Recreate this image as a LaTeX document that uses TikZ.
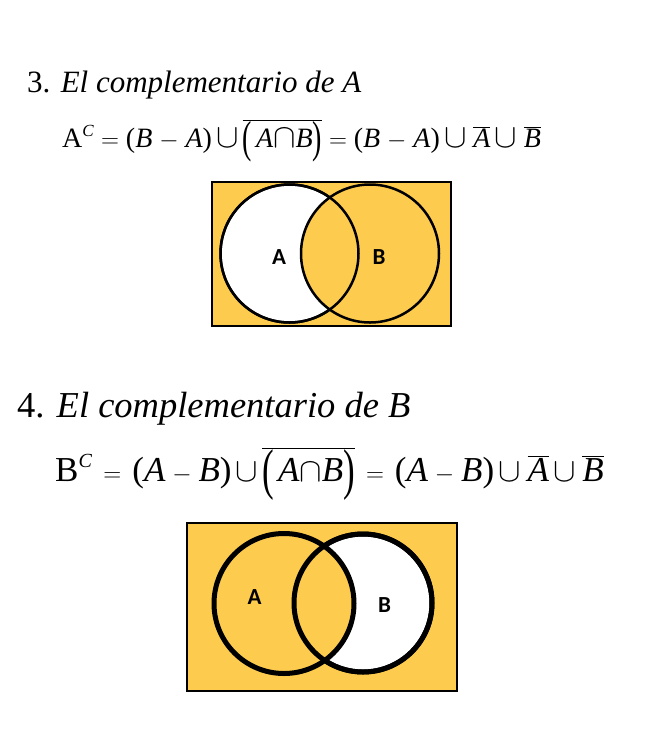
\documentclass[tikz,border=0pt]{standalone}
\usepackage{fontspec}
\setmainfont{Liberation Serif}
\newfontfamily\labelfont{Carlito}
\definecolor{venngold}{RGB}{253,203,77}
\newcommand{\mv}[1]{\mbox{\itshape #1}}
\newcommand{\sop}[1]{\mathord{\scalebox{1.35}{$#1$}}}
\newcommand{\pl}{\mbox{(}}
\newcommand{\pr}{\mbox{)}}
\newcommand{\bpl}{\mbox{\raisebox{-0.2em}{\scalebox{1}[1.6]{(}}}}
\newcommand{\bpr}{\mbox{\raisebox{-0.2em}{\scalebox{1}[1.6]{)}}}}
\newcommand{\minus}{\;{-}\;}
\newcommand{\eq}{\;{=}\;}

\begin{document}
\begin{tikzpicture}[
        x=1pt, y=-1pt,
        heading/.style={anchor=base west, inner sep=0pt},
        formula/.style={anchor=base west, inner sep=0pt},
        universe/.style={draw, fill=venngold, inner sep=0pt},
        set/.style={circle, draw, inner sep=0pt},
        setlabel/.style={font=\labelfont}
    ]
    \useasboundingbox (0,0) rectangle (656,748);

    % ---- 3. complementario de A
    \node[heading, font=\fontsize{31}{33}\selectfont] (h3) at (27,92) {3. \textit{El complementario de A}};
    \node[formula, font=\fontsize{28}{31}\selectfont] (f3) at (62,147)
        {$\mbox{A}^{\mbox{\fontsize{17}{17}\selectfont\itshape C}}\eq\pl\mv{B}\minus\mv{A}\pr\,\sop{\cup}\,\overline{\bpl\,\mv{A}\sop{\cap}\mv{B}\bpr}\eq\pl\mv{B}\minus\mv{A}\pr\,\sop{\cup}\;\overline{\mv{A}}\,\sop{\cup}\;\overline{\mv{B}}$};

    \node[universe, line width=1.2pt, minimum width=239pt, minimum height=144pt] (u3) at (331.5,254) {};
    \node[set, line width=2.5pt, fill=white, minimum size=138pt] (a3) at (289.5,253.5) {};
    \node[set, line width=2.5pt, fill=venngold, minimum size=138pt] (b3) at (370,253.5) {};
    \draw[line width=2.5pt] (a3.center) circle[radius=69pt];
    \node[setlabel, font=\labelfont\bfseries\fontsize{23}{23}\selectfont] (la3) at (279,257.5) {A};
    \node[setlabel, font=\labelfont\bfseries\fontsize{23}{23}\selectfont] (lb3) at (379,257.5) {B};

    % ---- 4. complementario de B
    \node[heading, font=\fontsize{36.5}{38}\selectfont] (h4) at (17,417) {4. \textit{El complementario de B}};
    \node[formula, font=\fontsize{35}{38}\selectfont] (f4) at (55,481)
        {$\mbox{B}^{\mbox{\fontsize{20}{20}\selectfont\itshape C}}\,\eq\,\pl\mv{A}\minus\mv{B}\pr\,\sop{\cup}\,\overline{\bpl\,\mv{A}\sop{\cap}\mv{B}\bpr}\,\eq\,\pl\mv{A}\minus\mv{B}\pr\,\sop{\cup}\;\overline{\mv{A}}\,\sop{\cup}\;\overline{\mv{B}}$};

    \node[universe, line width=2pt, minimum width=270pt, minimum height=168pt] (u4) at (322,607) {};
    \node[set, line width=5pt, fill=white, minimum size=138pt] (b4) at (363,603) {};
    \node[set, line width=5pt, fill=venngold, minimum size=140pt] (a4) at (284,603.5) {};
    \draw[line width=5pt] (b4.center) circle[radius=69pt];
    \node[setlabel, font=\labelfont\bfseries\fontsize{23}{23}\selectfont] (la4) at (254.5,597.5) {A};
    \node[setlabel, font=\labelfont\bfseries\fontsize{23}{23}\selectfont] (lb4) at (384.5,605) {B};
\end{tikzpicture}
\end{document}
